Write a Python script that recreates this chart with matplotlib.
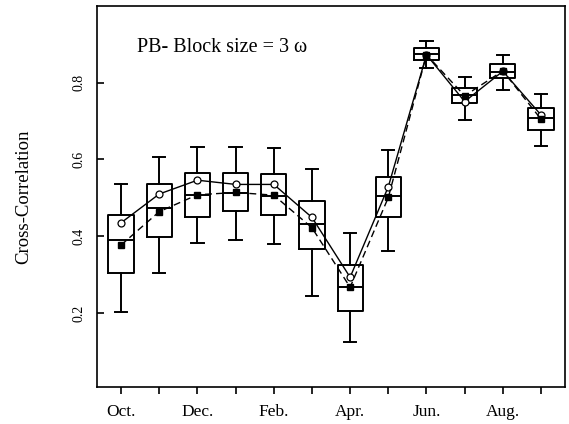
import numpy as np
import matplotlib.pyplot as plt

plt.rcParams["font.family"] = ["Liberation Serif", "DejaVu Serif"]

# ----------------------------------------
# Data (monthly cross-correlation, Oct..Sep)
# ----------------------------------------
months = ["Oct.", "Nov.", "Dec.", "Jan.", "Feb.", "Mar.",
          "Apr.", "May", "Jun.", "Jul.", "Aug.", "Sep."]

whisker_lo = [0.202, 0.304, 0.382, 0.389, 0.380, 0.245,
              0.124, 0.362, 0.838, 0.704, 0.782, 0.634]
box_lo = [0.305, 0.398, 0.450, 0.467, 0.454, 0.367,
          0.205, 0.450, 0.860, 0.746, 0.812, 0.678]
median = [0.389, 0.473, 0.508, 0.512, 0.505, 0.431,
          0.267, 0.506, 0.876, 0.768, 0.829, 0.708]
box_hi = [0.456, 0.536, 0.564, 0.565, 0.562, 0.491,
          0.325, 0.554, 0.890, 0.787, 0.849, 0.734]
whisker_hi = [0.537, 0.606, 0.633, 0.632, 0.631, 0.575,
              0.408, 0.624, 0.910, 0.816, 0.872, 0.771]

# observed (open circles, solid) and block-bootstrap mean (squares, dashed)
observed = [0.435, 0.510, 0.546, 0.535, 0.535, 0.449,
            0.293, 0.529, 0.873, 0.751, 0.830, 0.716]
boot_mean = [0.377, 0.464, 0.508, 0.514, 0.507, 0.422,
             0.267, 0.501, 0.873, 0.766, 0.831, 0.705]

# ----------------------------------------
# Plotting
# ----------------------------------------
fig = plt.figure(figsize=(5.69, 4.24), dpi=100)
ax = fig.add_axes([0.1705, 0.0873, 0.8226, 0.8985])

pos = np.arange(1, len(months) + 1)
stats = []
for i in range(len(months)):
    stats.append({
        "whislo": whisker_lo[i], "q1": box_lo[i], "med": median[i],
        "q3": box_hi[i], "whishi": whisker_hi[i], "fliers": [],
    })

ax.bxp(stats, positions=pos, widths=0.66, showfliers=False,
       boxprops=dict(color="black", linewidth=1.4),
       medianprops=dict(color="black", linewidth=1.4),
       whiskerprops=dict(color="black", linewidth=1.4),
       capprops=dict(color="black", linewidth=1.4),
       capwidths=0.32)

ax.plot(pos, observed, color="black", linewidth=1.0, linestyle="-",
        marker="o", markersize=5, markerfacecolor="white",
        markeredgecolor="black", markeredgewidth=0.9, zorder=4)
ax.plot(pos, boot_mean, color="black", linewidth=1.0, linestyle=(0, (5, 3)),
        marker="s", markersize=5, markerfacecolor="black",
        markeredgecolor="black", zorder=4)

ax.text(0.086, 0.89, "PB- Block size = 3 \u03c9", transform=ax.transAxes,
        fontsize=14.5, ha="left", va="center")

# Axes & ticks
ax.set_xlim(0.37, 12.63)
ax.set_ylim(0.007, 1.0)
ax.set_xticks(pos)
ax.set_xticklabels([m if i % 2 == 0 else "" for i, m in enumerate(months)],
                   fontsize=12.5)
ax.set_yticks([0.2, 0.4, 0.6, 0.8])
ax.set_yticklabels(["0.2", "0.4", "0.6", "0.8"], rotation=90,
                   va="center", fontsize=10)
ax.tick_params(axis="x", direction="out", length=5, width=1.2, pad=7.5)
ax.tick_params(axis="y", direction="in", length=5, width=1.2, pad=8)
ax.set_ylabel("Cross-Correlation", fontsize=13.5, labelpad=29)

for s in ax.spines.values():
    s.set_linewidth(1.2)

fig.savefig("out.png", dpi=100)
